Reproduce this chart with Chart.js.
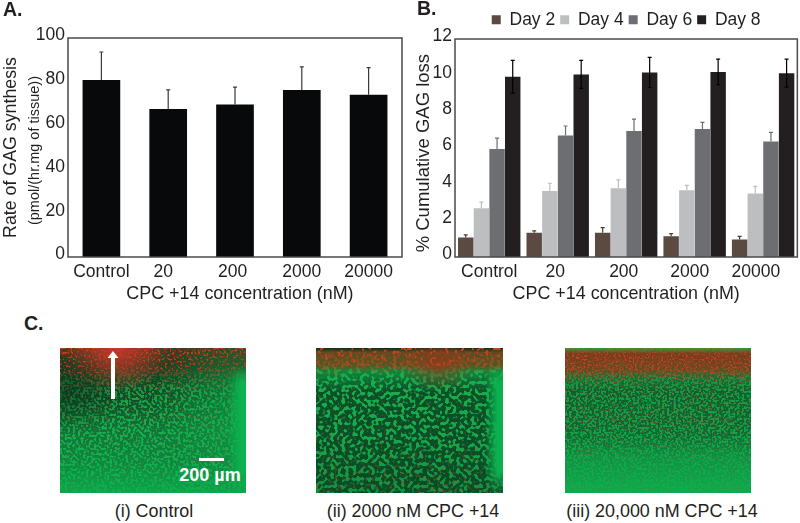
<!DOCTYPE html>
<html>
<head>
<meta charset="utf-8">
<script src="https://cdn.jsdelivr.net/npm/chart.js@4"></script>
<style>
  html, body { margin: 0; padding: 0; background: #fff; }
  body { width: 800px; height: 523px; position: relative; overflow: hidden; font-family: "Liberation Sans", Arial, sans-serif; color: #231f20; }
  canvas, .txt, svg { position: absolute; }
  .txt { white-space: nowrap; line-height: 1; }
  .panel { font-weight: bold; font-size: 19.5px; }
  .cap { font-size: 17.9px; transform: translateX(-50%); }
</style>
</head>
<body>
<canvas id="synthChart" width="408" height="305" style="left:0;top:0"></canvas>
<canvas id="lossChart" width="390" height="305" style="left:410px;top:0"></canvas>
<div class="txt panel" style="left:3px;top:0">A.</div>
<div class="txt panel" style="left:417px;top:-1px">B.</div>
<div class="txt panel" style="left:24px;top:314px">C.</div>
<div id="images"></div>
<div class="txt cap" style="left:154px;top:503px">(i) Control</div>
<div class="txt cap" style="left:413px;top:503px">(ii) 2000 nM CPC +14</div>
<div class="txt cap" style="left:662px;top:503px">(iii) 20,000 nM CPC +14</div>
<script>
const categories = ['Control', '20', '200', '2000', '20000'];

// panel A
const synthesis = [80.8, 67.6, 69.6, 76.3, 74.1];
const synthesisErr = [12.8, 8.7, 8.0, 10.5, 12.4];
const synthTicks = [0, 20, 40, 60, 80, 100];

// panel B
const day2 = [1.07, 1.33, 1.33, 1.14, 0.96];
const day4 = [2.69, 3.63, 3.78, 3.67, 3.50];
const day6 = [5.95, 6.69, 6.93, 7.04, 6.36];
const day8 = [9.92, 10.05, 10.16, 10.19, 10.12];
const day2Err = [0.15, 0.11, 0.29, 0.15, 0.18];
const day4Err = [0.33, 0.43, 0.46, 0.27, 0.39];
const day6Err = [0.59, 0.52, 0.66, 0.37, 0.50];
const day8Err = [0.90, 0.77, 0.83, 0.70, 0.77];
const lossTicks = [0, 2, 4, 6, 8, 10, 12];

const font = 'Liberation Sans, Arial, sans-serif';
const ink = '#231f20';
const nb = n => '\u00a0'.repeat(n);

// draws the box round the plot and the error bars
const frameAndErrors = {
  id: 'frameAndErrors',
  afterDatasetsDraw(chart) {
    const { ctx, chartArea: a, scales } = chart;
    ctx.save();
    chart.data.datasets.forEach((ds, i) => {
      const meta = chart.getDatasetMeta(i);
      ctx.strokeStyle = ds.errColor;
      ctx.lineWidth = 1.2;
      ds.data.forEach((v, j) => {
        const x = meta.data[j].x;
        const top = scales.y.getPixelForValue(v + ds.err[j]);
        const bottom = ds.both ? scales.y.getPixelForValue(v - ds.err[j]) : scales.y.getPixelForValue(v);
        ctx.beginPath();
        ctx.moveTo(x, top); ctx.lineTo(x, bottom);
        ctx.moveTo(x - 2, top); ctx.lineTo(x + 2, top);
        if (ds.both) { ctx.moveTo(x - 2, bottom); ctx.lineTo(x + 2, bottom); }
        ctx.stroke();
      });
    });
    ctx.strokeStyle = '#4a4a4a';
    ctx.lineWidth = 1.5;
    ctx.strokeRect(a.left, a.top, a.right - a.left, a.bottom - a.top);
    ctx.restore();
  }
};

// second, smaller line of the y title in panel A
const unitsLine = {
  id: 'unitsLine',
  afterDraw(chart) {
    const { ctx } = chart;
    ctx.save();
    ctx.translate(35, 150.5);
    ctx.rotate(-Math.PI / 2);
    ctx.font = '14.5px ' + font;
    ctx.fillStyle = ink;
    ctx.textAlign = 'center';
    ctx.textBaseline = 'middle';
    ctx.fillText('(pmol/(hr.mg of tissue))', 0, 0);
    ctx.restore();
  }
};

// keeps the legend at a set height so the plot top lands where it should
const legendHeight = {
  id: 'legendHeight',
  beforeInit(chart) {
    const fit = chart.legend.fit;
    chart.legend.fit = function () { fit.call(this); this.height = 33; };
  }
};

function axes(yMax, yTicks, yWidth, yTitle, yTitleSize, yTitlePad, xPad, xTitle) {
  return {
    x: {
      grid: { display: false, drawTicks: false },
      border: { display: false },
      ticks: {
        padding: 5, color: ink, font: { family: font, size: 17.5 }, maxRotation: 0, autoSkip: false,
        callback: (v, i) => categories[i] + nb(xPad[i])
      },
      title: { display: true, text: xTitle, color: ink, font: { family: font, size: 17.9 }, padding: 0 },
      afterFit: s => { s.height = 48; }
    },
    y: {
      min: 0, max: yMax,
      grid: { display: false, drawTicks: false },
      border: { display: false },
      afterBuildTicks: s => { s.ticks = yTicks.map(v => ({ value: v })); },
      ticks: { padding: 3, labelOffset: -2.5, color: ink, font: { family: font, size: 17.5 } },
      title: { display: true, text: yTitle, color: ink, font: { family: font, size: yTitleSize }, padding: yTitlePad },
      afterFit: s => { s.width = yWidth; }
    }
  };
}

new Chart(document.getElementById('synthChart'), {
  type: 'bar',
  data: {
    labels: categories,
    datasets: [{
      label: 'Rate of GAG synthesis', data: synthesis, err: synthesisErr,
      backgroundColor: '#08090b', errColor: '#3a3a3a',
      categoryPercentage: 1, barPercentage: 0.564
    }]
  },
  options: {
    responsive: false, animation: false,
    layout: { autoPadding: false, padding: { top: 38, right: 6, bottom: 0, left: 0 } },
    plugins: { legend: { display: false }, tooltip: { enabled: false } },
    scales: axes(100, synthTicks, 68, 'Rate of GAG synthesis', 17.8, { top: 0, bottom: 0 }, [0, 2, 1, 0, 0], nb(2) + 'CPC +14 concentration (nM)')
  },
  plugins: [frameAndErrors, unitsLine]
});

const bar = { categoryPercentage: 0.915, barPercentage: 0.985 };
new Chart(document.getElementById('lossChart'), {
  type: 'bar',
  data: {
    labels: categories,
    datasets: [
      { label: 'Day 2', data: day2, err: day2Err, backgroundColor: '#5a4a42', errColor: '#4a3a32', ...bar },
      { label: 'Day 4', data: day4, err: day4Err, backgroundColor: '#bcbec0', errColor: '#bcbec0', ...bar },
      { label: 'Day 6', data: day6, err: day6Err, backgroundColor: '#6d6e71', errColor: '#6d6e71', ...bar },
      { label: 'Day 8', data: day8, err: day8Err, both: true, backgroundColor: '#231f20', errColor: '#000', ...bar }
    ]
  },
  options: {
    responsive: false, animation: false,
    layout: { autoPadding: false, padding: { top: 6, right: 1, bottom: 0, left: 0 } },
    plugins: {
      tooltip: { enabled: false },
      legend: {
        position: 'top', fullSize: false,
        labels: { boxWidth: 9, boxHeight: 9, padding: 5, color: ink, font: { family: font, size: 17.5 } }
      }
    },
    scales: axes(12, lossTicks, 45, '% Cumulative GAG loss' + nb(2), 18.5, { top: 3, bottom: 0 }, [0, 1, 1, 2, 3], 'CPC +14 concentration (nM)')
  },
  plugins: [frameAndErrors, legendHeight]
});

// micrographs in part C, speckle comes from svg turbulence filters
const images = [
  { left: 60, top: 348, w: 186, h: 145, freq: 0.38, cut: 0.57, seed: 3,
    base: [[0, '#8a2a1c'], [0.12, '#5a2a18'], [0.3, '#14a048'], [0.55, '#12b050'], [1, '#0cb04f']],
    dark: [[0, 0.7], [0.2, 1], [0.35, 0.95], [0.55, 0.6], [0.8, 0.38], [1, 0.1]],
    red: [[0, 1], [0.1, 0.8], [0.3, 0.35], [0.6, 0.25], [1, 0.1]],
    glows: [[0.3, 0, 0.3, '#e0352a', 0.85], [1, 0.4, 0.5, '#0cb04f', 0.65], [0.05, 0.3, 0.3, '#07301a', 0.6]], strip: 0.97 },
  { left: 316, top: 348, w: 187, h: 145, freq: 0.27, cut: 0.58, seed: 8,
    base: [[0, '#0a2a15'], [0.03, '#7a4a20'], [0.12, '#7a5a20'], [0.17, '#14b04e'], [0.6, '#14aa4c'], [1, '#0e9040']],
    dark: [[0, 0.2], [0.15, 0.35], [0.3, 0.95], [1, 1]],
    red: [[0, 1], [0.12, 0.8], [0.2, 0.12], [0.7, 0.18], [1, 0.4]],
    glows: [[0.65, 0.1, 0.2, '#8a3a1c', 0.85]], strip: 0.97 },
  { left: 565, top: 348, w: 186, h: 145, freq: 0.44, cut: 0.56, seed: 14,
    base: [[0, '#3aa038'], [0.04, '#8a3a1c'], [0.15, '#8a4a20'], [0.22, '#169a44'], [0.5, '#10a048'], [0.72, '#0da84c'], [1, '#0cb04f']],
    dark: [[0, 0.1], [0.15, 0.3], [0.3, 0.75], [0.6, 0.65], [0.75, 0.25], [1, 0.03]],
    red: [[0, 0.4], [0.06, 1], [0.18, 0.9], [0.26, 0.4], [0.6, 0.4], [0.8, 0.2], [1, 0.2]],
    glows: [], strip: null }
];

function stops(list, isMask) {
  return list.map(s => isMask
    ? `<stop offset="${s[0]}" stop-color="white" stop-opacity="${s[1]}"/>`
    : `<stop offset="${s[0]}" stop-color="${s[1]}"/>`).join('');
}

function speckle(id, freq, seed, rgb, k, t) {
  return `<filter id="${id}" x="0" y="0" width="100%" height="100%" color-interpolation-filters="sRGB">
    <feTurbulence type="fractalNoise" baseFrequency="${freq}" numOctaves="1" seed="${seed}"/>
    <feColorMatrix type="matrix" values="0 0 0 0 ${rgb[0]} 0 0 0 0 ${rgb[1]} 0 0 0 0 ${rgb[2]} ${k} 0 0 0 ${t}"/>
  </filter>`;
}

document.getElementById('images').innerHTML = images.map((im, n) => {
  const r = `width="${im.w}" height="${im.h}"`;
  const glowDefs = im.glows.map((g, i) => `<radialGradient id="gl${n}_${i}" cx="${g[0]}" cy="${g[1]}" r="${g[2]}"><stop offset="0" stop-color="${g[3]}" stop-opacity="${g[4]}"/><stop offset="1" stop-color="${g[3]}" stop-opacity="0"/></radialGradient>`).join('');
  const glowRects = im.glows.map((g, i) => `<rect ${r} fill="url(#gl${n}_${i})"/>`).join('');
  return `<svg style="left:${im.left}px;top:${im.top}px" ${r}>
    <defs>
      <linearGradient id="b${n}" x2="0" y2="1">${stops(im.base)}</linearGradient>
      <linearGradient id="dg${n}" x2="0" y2="1">${stops(im.dark, true)}</linearGradient>
      <linearGradient id="rg${n}" x2="0" y2="1">${stops(im.red, true)}</linearGradient>
      <mask id="dm${n}"><rect ${r} fill="url(#dg${n})"/></mask>
      <mask id="rm${n}"><rect ${r} fill="url(#rg${n})"/></mask>
      ${speckle('sd' + n, im.freq, im.seed, [0.03, 0.3, 0.15], -14, 14 * im.cut)}
      ${speckle('sr' + n, im.freq * 1.2, im.seed + 2, [0.78, 0.25, 0.13], 16, -9.3)}
      ${glowDefs}
      ${im.strip ? `<linearGradient id="st${n}"><stop offset="${im.strip - 0.07}" stop-color="#0cb04f" stop-opacity="0"/><stop offset="${im.strip}" stop-color="#0cb04f" stop-opacity="1"/></linearGradient><linearGradient id="stm${n}" x2="0" y2="1"><stop offset="0.12" stop-color="white" stop-opacity="0"/><stop offset="0.24" stop-color="white"/><stop offset="0.85" stop-color="white"/><stop offset="0.97" stop-color="white" stop-opacity="0.2"/></linearGradient><mask id="stk${n}"><rect ${r} fill="url(#stm${n})"/></mask>` : ''}
    </defs>
    <g style="filter:blur(0.5px)">
      <rect ${r} fill="url(#b${n})"/>
      <g mask="url(#dm${n})"><rect ${r} filter="url(#sd${n})"/></g>
      ${glowRects}
      <g mask="url(#rm${n})"><rect ${r} filter="url(#sr${n})"/></g>
      ${im.strip ? `<g mask="url(#stk${n})"><rect ${r} fill="url(#st${n})"/></g>` : ''}
    </g>
    ${n === 0 ? `
      <rect x="51" y="7" width="4" height="44" fill="#fff"/>
      <path d="M47.5 10 L53 3 L58.5 10 Z" fill="#fff"/>
      <rect x="139" y="110" width="25" height="3" fill="#fff"/>
      <text x="150" y="133" text-anchor="middle" font-family="Liberation Sans" font-weight="bold" font-size="18" fill="#fff">200 µm</text>` : ''}
  </svg>`;
}).join('');
</script>
</body>
</html>
